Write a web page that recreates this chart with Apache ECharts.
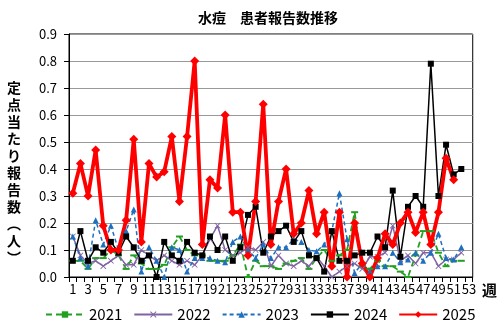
<!DOCTYPE html>
<html>
<head>
<meta charset="utf-8">
<script src="https://cdn.jsdelivr.net/npm/echarts@6/dist/echarts.min.js"></script>
<style>
  html, body { margin: 0; padding: 0; background: #fff; }
  #main { width: 500px; height: 331px; }
</style>
</head>
<body>
<div id="main"></div>
<script>
// 週 (1-53)
var weeks = [];
for (var w = 1; w <= 53; w++) { weeks.push(String(w)); }

// 定点当たり報告数
var y2021 = [0.06, 0.06, 0.03, 0.07, 0.07, 0.10, 0.08, 0.03, 0.08, 0.05,
             0.03, 0.03, 0.045, 0.11, 0.15, 0.10, 0.08, 0.08, 0.06, 0.06,
             0.06, 0.08, 0.12, 0.00, 0.06, 0.04, 0.04, 0.03, 0.05, 0.06,
             0.07, 0.03, 0.07, 0.10, 0.06, 0.08, 0.10, 0.24, 0.04, 0.03,
             0.06, 0.04, 0.04, 0.02, 0.00, 0.08, 0.17, 0.17, 0.09, 0.04,
             0.06, 0.06];
var y2022 = [0.15, 0.08, 0.05, 0.06, 0.04, 0.06, 0.08, 0.045, 0.045, 0.10,
             0.08, 0.06, 0.08, 0.06, 0.045, 0.06, 0.045, 0.08, 0.14, 0.19,
             0.10, 0.08, 0.09, 0.11, 0.10, 0.13, 0.04, 0.08, 0.05, 0.04,
             0.06, 0.04, 0.075, 0.04, 0.00, 0.02, 0.04, 0.05, 0.03, 0.075,
             0.075, 0.09, 0.19, 0.06, 0.08, 0.05, 0.09, 0.09, 0.04, 0.065,
             0.065, 0.09];
var y2023 = [0.15, 0.07, 0.04, 0.21, 0.12, 0.19, 0.10, 0.17, 0.25, 0.02,
             0.11, 0.06, 0.00, 0.11, 0.10, 0.02, 0.07, 0.07, 0.07, 0.06,
             0.055, 0.13, 0.15, 0.10, 0.07, 0.12, 0.07, 0.11, 0.11, 0.14,
             0.13, 0.10, 0.095, 0.12, 0.17, 0.31, 0.14, 0.015, 0.05, 0.02,
             0.04, 0.04, 0.09, 0.055, 0.065, 0.09, 0.06, 0.09, 0.16, 0.07,
             0.065, 0.11];
var y2024 = [0.06, 0.17, 0.06, 0.11, 0.09, 0.13, 0.09, 0.15, 0.11, 0.06,
             0.08, 0.00, 0.13, 0.08, 0.06, 0.13, 0.09, 0.08, 0.15, 0.10,
             0.15, 0.06, 0.11, 0.23, 0.26, 0.09, 0.15, 0.17, 0.19, 0.13,
             0.17, 0.08, 0.07, 0.02, 0.17, 0.06, 0.06, 0.08, 0.09, 0.09,
             0.15, 0.11, 0.32, 0.075, 0.26, 0.30, 0.26, 0.79, 0.30, 0.49,
             0.38, 0.40];
var y2025 = [0.31, 0.42, 0.30, 0.47, 0.19, 0.10, 0.10, 0.21, 0.51, 0.13,
             0.42, 0.37, 0.39, 0.52, 0.28, 0.52, 0.80, 0.12, 0.36, 0.33,
             0.60, 0.24, 0.24, 0.08, 0.28, 0.64, 0.12, 0.28, 0.40, 0.16,
             0.20, 0.32, 0.16, 0.24, 0.04, 0.24, 0.00, 0.20, 0.05, 0.00,
             0.07, 0.16, 0.12, 0.20, 0.24, 0.165, 0.24, 0.12, 0.24, 0.44,
             0.36];

var FONT = '"Noto Sans CJK JP", "Noto Sans", sans-serif';
var crossPath = 'path://M0,1L1,0L5,4L9,0L10,1L6,5L10,9L9,10L5,6L1,10L0,9L4,5Z';

var myChart = echarts.init(document.getElementById('main'));

var option = {
    animation: false,
    textStyle: { fontFamily: FONT },
    title: {
        text: '水痘\u3000患者報告数推移',
        left: 263,
        textAlign: 'center',
        top: 6,
        textStyle: { fontSize: 14, fontWeight: 'bold', color: '#000', fontFamily: FONT }
    },
    grid: {
        left: 69, right: 24, top: 34, bottom: 54,
        show: true, borderColor: '#000', borderWidth: 1
    },
    legend: {
        bottom: 4,
        left: 40,
        itemWidth: 38,
        itemHeight: 8,
        itemGap: 11,
        textStyle: { fontSize: 15, color: '#000', fontFamily: FONT },
        data: ['2021', '2022', '2023', '2024', '2025']
    },
    graphic: [{
        type: 'text',
        left: 7,
        top: 79,
        style: {
            text: '定\n点\n当\nた\nり\n報\n告\n数\n︵\n人\n︶',
            fontSize: 14,
            fontWeight: 'bold',
            lineHeight: 17,
            fill: '#000',
            fontFamily: FONT
        }
    }],
    xAxis: {
        type: 'category',
        data: weeks,
        boundaryGap: true,
        name: '週',
        nameLocation: 'end',
        nameGap: 3,
        nameTextStyle: { fontSize: 15, fontWeight: 'bold', color: '#000', verticalAlign: 'top', padding: [6, 0, 0, 0] },
        axisLine: { lineStyle: { color: '#000', width: 1 } },
        axisTick: { show: true, interval: 0, length: 5, lineStyle: { color: '#000' } },
        axisLabel: { interval: 1, color: '#000', fontSize: 13, margin: 6 },
        splitLine: { show: false }
    },
    yAxis: {
        type: 'value',
        min: 0,
        max: 0.9,
        interval: 0.1,
        axisLine: { show: true, lineStyle: { color: '#000', width: 1 } },
        axisTick: { show: true, length: 5, lineStyle: { color: '#000' } },
        axisLabel: {
            color: '#000', fontSize: 13, margin: 12,
            formatter: function (v) { return v.toFixed(1); }
        },
        splitLine: { lineStyle: { color: '#999', width: 1 } }
    },
    series: [
        {
            name: '2021', type: 'line', data: y2021, showAllSymbol: true,
            symbol: 'rect', symbolSize: [7, 2],
            itemStyle: { color: '#22a022' },
            lineStyle: { color: '#22a022', width: 1.8, type: [6, 4] }
        },
        {
            name: '2022', type: 'line', data: y2022, showAllSymbol: true,
            symbol: crossPath, symbolSize: 6,
            itemStyle: { color: '#8064a2' },
            lineStyle: { color: '#8064a2', width: 1.5 }
        },
        {
            name: '2023', type: 'line', data: y2023, showAllSymbol: true,
            symbol: 'triangle', symbolSize: 6,
            itemStyle: { color: '#1f6fbf' },
            lineStyle: { color: '#1f6fbf', width: 1.5, type: [4, 3] }
        },
        {
            name: '2024', type: 'line', data: y2024, showAllSymbol: true,
            symbol: 'rect', symbolSize: 6,
            itemStyle: { color: '#000' },
            lineStyle: { color: '#000', width: 1.5 }
        },
        {
            name: '2025', type: 'line', data: y2025, showAllSymbol: true,
            symbol: 'diamond', symbolSize: 9,
            itemStyle: { color: '#ff0000' },
            lineStyle: { color: '#ff0000', width: 3.8 }
        }
    ]
};

myChart.setOption(option);
</script>
</body>
</html>
